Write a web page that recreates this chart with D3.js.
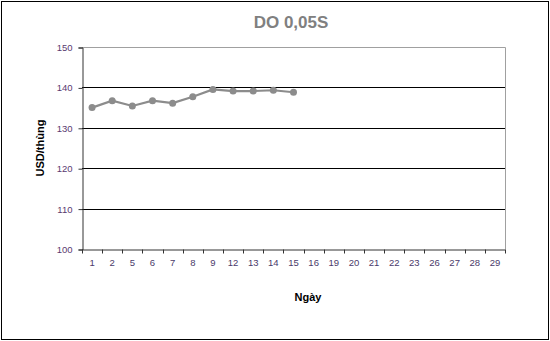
<!DOCTYPE html>
<html>
<head>
<meta charset="utf-8">
<script src="https://cdn.jsdelivr.net/npm/d3@7"></script>
<style>
  body { margin: 0; background: #fff; }
  text { font-family: "Liberation Sans", Arial, sans-serif; }
</style>
</head>
<body>
<script>
var days = ["1", "2", "5", "6", "7", "8", "9", "12", "13", "14", "15", "16", "19", "20", "21", "22", "23", "26", "27", "28", "29"];
var priceDays = ["1", "2", "5", "6", "7", "8", "9", "12", "13", "14", "15"];
var prices = [135.0, 136.7, 135.4, 136.7, 136.1, 137.7, 139.5, 139.1, 139.1, 139.3, 138.8];
var yTicks = [100, 110, 120, 130, 140, 150];

var width = 550, height = 341;
var plotLeft = 82, plotRight = 505, plotTop = 47, plotBottom = 249;

var svg = d3.select("body").append("svg").attr("width", width).attr("height", height);

svg.append("rect")
  .attr("x", 1.5).attr("y", 1.5)
  .attr("width", width - 3).attr("height", height - 3)
  .style("fill", "#fff").style("stroke", "#000").style("stroke-width", 1);

var x = d3.scaleBand().domain(days).range([plotLeft, plotRight]);
var y = d3.scaleLinear().domain([100, 150]).range([plotBottom, plotTop]);

// plot area top/right border
svg.append("path")
  .attr("d", "M" + plotLeft + "," + (plotTop + 0.5) + "H" + (plotRight + 0.5) + "V" + plotBottom)
  .style("fill", "none").style("stroke", "#a0a0a0");

// gridlines
svg.selectAll("line.grid")
  .data(yTicks.filter(function (d) { return d > 100 && d < 150; }))
  .enter().append("line")
  .attr("class", "grid")
  .attr("x1", plotLeft).attr("x2", plotRight)
  .attr("y1", function (d) { return Math.round(y(d)) + 0.5; })
  .attr("y2", function (d) { return Math.round(y(d)) + 0.5; })
  .style("stroke", "#000").style("stroke-width", 1);

// y axis
var yAxis = svg.append("g")
  .attr("transform", "translate(" + (plotLeft + 0.5) + ",0.5)")
  .call(d3.axisLeft(y).tickValues(yTicks).tickSize(4).tickPadding(6));
yAxis.select(".domain").style("stroke", "#333");
yAxis.selectAll(".tick line").style("stroke", "#333");
yAxis.selectAll("text").style("font-size", "9.5px").style("fill", "#5a3a70");

// x axis
var xAxis = svg.append("g")
  .attr("transform", "translate(0," + (plotBottom + 0.5) + ")")
  .call(d3.axisBottom(x).tickSize(0).tickPadding(10));
xAxis.select(".domain").style("stroke", "#333");
xAxis.selectAll("text").style("font-size", "9.5px").style("fill", "#4a3a6a");
xAxis.selectAll("line.sep")
  .data(days.concat(["end"]))
  .enter().append("line")
  .attr("class", "sep")
  .attr("x1", function (d, i) { return Math.round(plotLeft + i * x.bandwidth()) + 0.5; })
  .attr("x2", function (d, i) { return Math.round(plotLeft + i * x.bandwidth()) + 0.5; })
  .attr("y1", 0).attr("y2", 4)
  .style("stroke", "#333");

// series
var line = d3.line()
  .x(function (d, i) { return x(priceDays[i]) + x.bandwidth() / 2; })
  .y(function (d) { return y(d); });

svg.append("path")
  .datum(prices)
  .attr("d", line)
  .style("fill", "none").style("stroke", "#8c8c8c").style("stroke-width", 2.2);

svg.selectAll("circle.dot")
  .data(prices)
  .enter().append("circle")
  .attr("class", "dot")
  .attr("cx", function (d, i) { return x(priceDays[i]) + x.bandwidth() / 2; })
  .attr("cy", function (d) { return y(d); })
  .attr("r", 3.5)
  .style("fill", "#8c8c8c");

// titles
svg.append("text")
  .attr("x", 291).attr("y", 28)
  .attr("text-anchor", "middle")
  .style("font-size", "17px").style("font-weight", "bold").style("fill", "#808080")
  .text("DO 0,05S");

svg.append("text")
  .attr("transform", "translate(44," + ((plotTop + plotBottom) / 2) + ") rotate(-90)")
  .attr("text-anchor", "middle")
  .style("font-size", "11px").style("font-weight", "bold").style("fill", "#000")
  .text("USD/thùng");

svg.append("text")
  .attr("x", 308).attr("y", 301)
  .attr("text-anchor", "middle")
  .style("font-size", "11px").style("font-weight", "bold").style("fill", "#000")
  .text("Ngày");
</script>
</body>
</html>
